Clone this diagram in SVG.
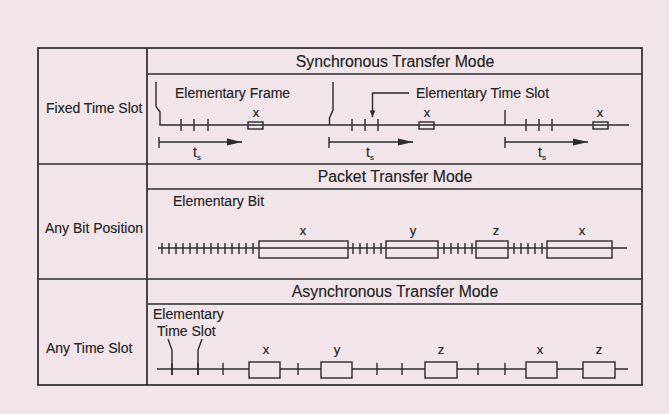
<svg xmlns="http://www.w3.org/2000/svg" width="669" height="414" viewBox="0 0 669 414">
<defs>
<style>
.t{font-family:"Liberation Sans",Arial,sans-serif;fill:#222;font-size:14px;stroke:#222;stroke-width:0.15}
.h{font-size:15.8px;text-anchor:middle}
.c{text-anchor:middle;font-size:13px}
.ln{stroke:#2b2b2b;stroke-width:1.4;fill:none}
.bx{stroke:#2b2b2b;stroke-width:1.7;fill:none}
.box{stroke:#2b2b2b;stroke-width:1.4;fill:#f1e5e9}
</style>
<marker id="ah" viewBox="0 0 15 8" refX="15" refY="4" markerWidth="15" markerHeight="8" markerUnits="userSpaceOnUse" orient="auto">
<path d="M0,0.5 L15,4 L0,7.5 Z" fill="#2b2b2b"/>
</marker>
<marker id="ah2" viewBox="0 0 8 10" refX="8" refY="4" markerWidth="8" markerHeight="8" markerUnits="userSpaceOnUse" orient="auto">
<path d="M0,0.5 L8,4 L0,7.5 Z" fill="#2b2b2b"/>
</marker>
</defs>
<rect x="0" y="0" width="669" height="414" fill="#f1e5e9"/>

<g id="table">
<rect x="38" y="48" width="604" height="337" class="bx"/>
<line x1="147" y1="48" x2="147" y2="385" class="bx"/>
<line x1="147" y1="74" x2="642" y2="74" class="bx"/>
<line x1="38" y1="164" x2="642" y2="164" class="bx"/>
<line x1="147" y1="189" x2="642" y2="189" class="bx"/>
<line x1="38" y1="279" x2="642" y2="279" class="bx"/>
<line x1="147" y1="304" x2="642" y2="304" class="bx"/>
<text class="t h" x="395" y="67">Synchronous Transfer Mode</text>
<text class="t h" x="395" y="182">Packet Transfer Mode</text>
<text class="t h" x="395" y="297">Asynchronous Transfer Mode</text>
<text class="t" x="46" y="113">Fixed Time Slot</text>
<text class="t" x="45" y="233">Any Bit Position</text>
<text class="t" x="46" y="353">Any Time Slot</text>
</g>

<g id="stm">
<path class="ln" d="M156,82 V106.5 L160,112 V125 H629"/>
<path class="ln" d="M333,82 V110 L329.5,118 V125"/>
<line class="ln" x1="505" y1="110" x2="505" y2="125"/>
<path class="ln" d="M181,119V131M194,119V131M208,119V131M352,119V131M365,119V131M378,119V131M526,119V131M539,119V131M552,119V131"/>
<rect class="ln" x="248" y="122" width="15" height="7"/>
<rect class="ln" x="419" y="122" width="15" height="7"/>
<rect class="ln" x="593" y="122" width="15" height="7"/>
<text class="t c" x="256" y="117">x</text>
<text class="t c" x="427" y="117">x</text>
<text class="t c" x="600" y="117">x</text>
<text class="t" x="175" y="98">Elementary Frame</text>
<text class="t" x="416" y="98">Elementary Time Slot</text>
<path class="ln" d="M409,93 H372.5 V117" marker-end="url(#ah2)"/>
<path class="ln" d="M159,137V148M329,137V148M505,137V148"/>
<line class="ln" x1="159" y1="142" x2="242" y2="142" marker-end="url(#ah)"/>
<line class="ln" x1="329" y1="142" x2="413" y2="142" marker-end="url(#ah)"/>
<line class="ln" x1="505" y1="142" x2="588" y2="142" marker-end="url(#ah)"/>
<text class="t" x="193" y="157">t<tspan font-size="8" dy="3">s</tspan></text>
<text class="t" x="366" y="157">t<tspan font-size="8" dy="3">s</tspan></text>
<text class="t" x="538" y="157">t<tspan font-size="8" dy="3">s</tspan></text>
</g>

<g id="ptm">
<line class="ln" x1="158" y1="248" x2="627" y2="248"/>
<path class="ln" d="M162,243V254M169,243V254M176,243V254M183,243V254M190,243V254M197,243V254M204,243V254M211,243V254M218,243V254M225,243V254M232,243V254M239,243V254M246,243V254M253,243V254M353,243V254M360,243V254M367,243V254M374,243V254M381,243V254M444,243V254M451,243V254M458,243V254M465,243V254M472,243V254M514,243V254M521,243V254M528,243V254M535,243V254M542,243V254"/>
<rect class="ln" x="259" y="241" width="89" height="17"/>
<rect class="ln" x="386" y="241" width="52" height="17"/>
<rect class="ln" x="476" y="241" width="32" height="17"/>
<rect class="ln" x="547" y="241" width="65" height="17"/>
<text class="t c" x="303" y="235">x</text>
<text class="t c" x="413" y="235">y</text>
<text class="t c" x="496" y="235">z</text>
<text class="t c" x="582" y="235">x</text>
<text class="t" x="173" y="206">Elementary Bit</text>
</g>

<g id="atm">
<line class="ln" x1="157" y1="369" x2="628" y2="369"/>
<path class="ln" d="M168,339 L172,350 V375M202,339 L198,350 V375"/>
<path class="ln" d="M172,363V375M198,363V375M223,363V375M298,363V375M377,363V375M402,363V375M478,363V375M505,363V375"/>
<rect class="box" x="249" y="362" width="31" height="16"/>
<rect class="box" x="321" y="362" width="31" height="16"/>
<rect class="box" x="425" y="362" width="32" height="16"/>
<rect class="box" x="526" y="362" width="31" height="16"/>
<rect class="box" x="583" y="362" width="32" height="16"/>
<text class="t c" x="266" y="354">x</text>
<text class="t c" x="337" y="354">y</text>
<text class="t c" x="441" y="354">z</text>
<text class="t c" x="540" y="354">x</text>
<text class="t c" x="599" y="354">z</text>
<text class="t" x="153" y="319">Elementary</text>
<text class="t" x="157" y="336">Time Slot</text>
</g>
</svg>
